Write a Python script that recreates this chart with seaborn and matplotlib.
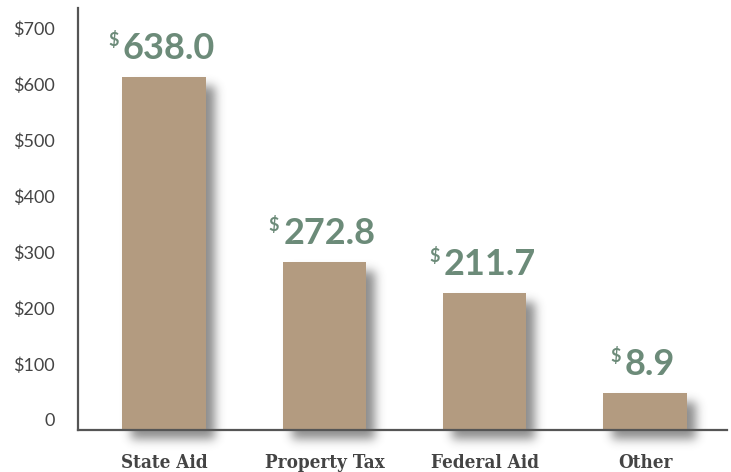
import numpy as np
import pandas as pd
import matplotlib
matplotlib.use("Agg")
import matplotlib.pyplot as plt
import matplotlib.transforms as mtransforms
import seaborn as sns

# ---- data ----
categories = ["State Aid", "Property Tax", "Federal Aid", "Other"]
bar_heights = [630, 300, 245, 66]          # bar heights as drawn
value_labels = ["638.0", "272.8", "211.7", "8.9"]
tick_values = [0, 100, 200, 300, 400, 500, 600, 700]
tick_labels = ["0", "$100", "$200", "$300", "$400", "$500", "$600", "$700"]

BAR_COLOR = "#b39b80"
VALUE_COLOR = "#6c8b79"
TEXT_COLOR = "#444444"
AXIS_COLOR = "#555555"

sns.set_theme(style="white")
plt.rcParams['font.family'] = ['Lato', 'DejaVu Sans']

W, H = 731, 472
fig = plt.figure(figsize=(W / 100, H / 100), dpi=100)
fig.patch.set_facecolor("white")
ax = fig.add_axes([78 / W, 42 / H, (727 - 78) / W, 422 / H])
ax.set_facecolor("none")

df = pd.DataFrame({"category": categories, "value": bar_heights})
sns.barplot(data=df, x="category", y="value", color=BAR_COLOR, saturation=1,
            width=0.52, ax=ax, zorder=3, linewidth=0, edgecolor="none")

ax.set_xlim(-0.536, 3.51)
ax.set_ylim(0, 753.6)
ax.set_xlabel("")
ax.set_ylabel("")
sns.despine(ax=ax)
for s in ("left", "bottom"):
    ax.spines[s].set_color(AXIS_COLOR)
    ax.spines[s].set_linewidth(1.6)
    ax.spines[s].set_zorder(4)

ax.set_yticks(tick_values)
ax.set_yticklabels(tick_labels)
ax.tick_params(axis="y", length=0, pad=16.5, labelsize=13, labelcolor=TEXT_COLOR)
ax.tick_params(axis="x", length=0, pad=17, labelcolor=TEXT_COLOR)
shift = mtransforms.ScaledTranslation(0, 10 / 100, fig.dpi_scale_trans)
for lab in ax.get_yticklabels():
    lab.set_transform(lab.get_transform() + shift)
for lab in ax.get_xticklabels():
    lab.set_family(["DejaVu Serif Condensed", "DejaVu Serif"])
    lab.set_fontstretch("condensed")
    lab.set_fontweight("bold")
    lab.set_fontsize(13.5)

# value labels
for patch, lab in zip(ax.patches, value_labels):
    xc = patch.get_x() + patch.get_width() / 2
    top = patch.get_y() + patch.get_height()
    t = ax.annotate(lab, xy=(xc, top), xytext=(5 * 0.72, 18 * 0.72),
                    textcoords="offset points", ha="center", va="baseline",
                    fontsize=26, fontweight="bold", color=VALUE_COLOR, zorder=5)
    ax.annotate("$", xy=(0, 1), xycoords=t, xytext=(-4 * 0.72, 1 * 0.72),
                textcoords="offset points", ha="right", va="top",
                fontsize=13, fontweight="bold", color=VALUE_COLOR, zorder=5)

# blurred drop shadows derived from the bars
fig.canvas.draw()
renderer = fig.canvas.get_renderer()
mask = np.zeros((H, W), dtype=float)
dx, dy = 9, -9
for patch in ax.patches:
    bb = patch.get_window_extent(renderer)
    x0, x1 = int(round(bb.x0)) + dx, int(round(bb.x1)) + dx
    y0, y1 = int(round(bb.y0)) + dy, int(round(bb.y1)) + dy
    mask[max(y0, 0):min(y1, H), max(x0, 0):min(x1, W)] = 1.0
sigma = 5.0
r = int(3 * sigma)
k = np.exp(-0.5 * (np.arange(-r, r + 1) / sigma) ** 2)
k /= k.sum()
mask = np.apply_along_axis(lambda m: np.convolve(m, k, mode="same"), 0, mask)
mask = np.apply_along_axis(lambda m: np.convolve(m, k, mode="same"), 1, mask)
rgba = np.zeros((H, W, 4))
rgba[..., :3] = 0.25
rgba[..., 3] = np.clip(mask * 0.6, 0, 1)
fig.figimage(rgba, xo=0, yo=0, origin="lower", zorder=-1)

fig.savefig("out.png", dpi=100, facecolor="white")
